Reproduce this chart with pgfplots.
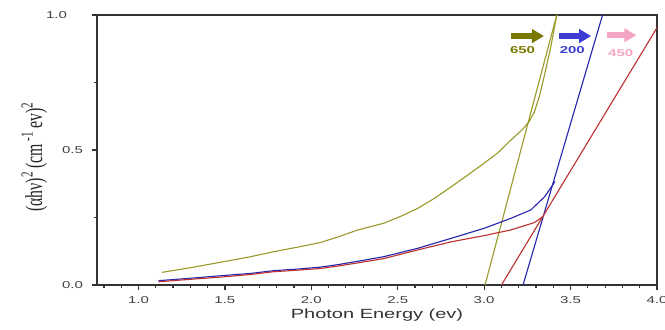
\documentclass[border=0pt]{standalone}
\usepackage{pgfplots}
\pgfplotsset{compat=1.18}
\usepackage{fontspec}
\usepackage{graphicx}
\usetikzlibrary{arrows.meta,calc}
\setmainfont{Liberation Sans}
\newfontfamily\stsans[FakeStretch=1.5]{Liberation Sans}
\newfontfamily\stserif{Liberation Serif}
\definecolor{colol}{RGB}{155,155,45}
\definecolor{colbl}{RGB}{40,40,175}
\definecolor{colrd}{RGB}{190,50,50}
\definecolor{arol}{RGB}{120,120,0}
\definecolor{arbl}{RGB}{60,60,210}
\definecolor{arpk}{RGB}{245,165,195}
\begin{document}
\begin{tikzpicture}
\begin{axis}[
  name=ax,
  scale only axis,
  width=420pt, height=202.5pt,
  xmin=0.76, xmax=4.0, ymin=0, ymax=1.0,
  xtick={1.0,1.5,2.0,2.5,3.0,3.5,4.0},
  ytick={0,0.5,1.0},
  yticklabels={0.0,0.5,{1.0\kern12pt}},
  minor xtick={0.8,0.9,1.1,1.2,1.3,1.4,1.6,1.7,1.8,1.9,2.1,2.2,2.3,2.4,2.6,2.7,2.8,2.9,3.1,3.2,3.3,3.4,3.6,3.7,3.8,3.9},
  minor ytick={0.25,0.75},
  tick pos=left,
  tick align=outside,
  major tick length=4pt,
  minor tick length=2.2pt,
  every tick/.style={black!80, line width=0.9pt},
  axis line style={black!80, line width=1.3pt},
  xticklabel style={font=\stsans\fontsize{7.5}{9}\selectfont, color=black!75, yshift=-1pt},
  yticklabel style={font=\stsans\fontsize{7.5}{9}\selectfont, color=black!75, xshift=-3pt},
  /pgf/number format/assume math mode=true,
  /pgf/number format/fixed,
  /pgf/number format/fixed zerofill,
  /pgf/number format/precision=1,
  xlabel={\stsans\fontsize{10}{12}\selectfont Photon Energy (ev)},
  xlabel style={yshift=3pt, color=black!80},
  clip=false,
]
% olive curve (650)
\addplot[colol, line width=0.85pt] coordinates {
(1.137,0.047) (1.30,0.064) (1.49,0.086) (1.65,0.105) (1.78,0.123) (1.92,0.140)
(2.05,0.157) (2.15,0.177) (2.27,0.204) (2.42,0.229) (2.52,0.255) (2.616,0.284)
(2.71,0.320) (2.81,0.364) (2.90,0.405) (3.00,0.451) (3.08,0.490) (3.155,0.537)
(3.22,0.575) (3.26,0.605) (3.29,0.64) (3.32,0.70) (3.35,0.78) (3.385,0.88) (3.42,1.0)
};
\addplot[colol, line width=0.85pt] coordinates {(3.005,0) (3.42,1.0)};
% blue curve (200)
\addplot[colbl, line width=0.85pt] coordinates {
(1.116,0.016) (1.30,0.025) (1.49,0.035) (1.65,0.043) (1.78,0.053) (1.92,0.059)
(2.05,0.066) (2.15,0.075) (2.27,0.088) (2.42,0.105) (2.616,0.136) (2.81,0.173)
(3.00,0.210) (3.155,0.247) (3.27,0.278) (3.35,0.327) (3.41,0.383)
};
\addplot[colbl, line width=0.85pt] coordinates {(3.225,0) (3.685,1.0)};
% red curve (450)
\addplot[colrd, line width=0.85pt] coordinates {
(1.116,0.012) (1.30,0.021) (1.49,0.030) (1.65,0.039) (1.78,0.049) (1.92,0.055)
(2.05,0.061) (2.15,0.070) (2.27,0.082) (2.42,0.098) (2.616,0.130) (2.81,0.160)
(3.00,0.183) (3.155,0.204) (3.29,0.231) (3.339,0.253)
};
\addplot[colrd, line width=0.85pt] coordinates {(3.10,0) (4.0,0.953)};
% arrows and labels
\draw[arol, line width=4.5pt, -{Triangle[length=9pt,width=10pt]}] (axis cs:3.155,0.922) -- (axis cs:3.346,0.922);
\draw[arbl, line width=4.5pt, -{Triangle[length=9pt,width=10pt]}] (axis cs:3.433,0.922) -- (axis cs:3.619,0.922);
\draw[arpk, line width=4.5pt, -{Triangle[length=9pt,width=10pt]}] (axis cs:3.711,0.925) -- (axis cs:3.88,0.925);
\node[arol, font=\stsans\bfseries\fontsize{7.5}{9}\selectfont] at (axis cs:3.222,0.872) {650};
\node[arbl, font=\stsans\bfseries\fontsize{7.5}{9}\selectfont] at (axis cs:3.51,0.872) {200};
\node[arpk, font=\stsans\bfseries\fontsize{7.5}{9}\selectfont] at (axis cs:3.79,0.860) {450};
\end{axis}
\node[black!85] at ($(ax.south west)+(-47pt,96pt)$) {\rotatebox{90}{\scalebox{1.25}[1.9]{\stserif\fontsize{9.5}{11}\selectfont (αhν)\textsuperscript{2}\,(cm\,\textsuperscript{-1}\,ev)\textsuperscript{2}}}};
\pgfresetboundingbox
\path[use as bounding box] ($(ax.south west)+(-72.75pt,-33pt)$) rectangle ($(ax.north east)+(6pt,11.25pt)$);
\end{tikzpicture}
\end{document}
